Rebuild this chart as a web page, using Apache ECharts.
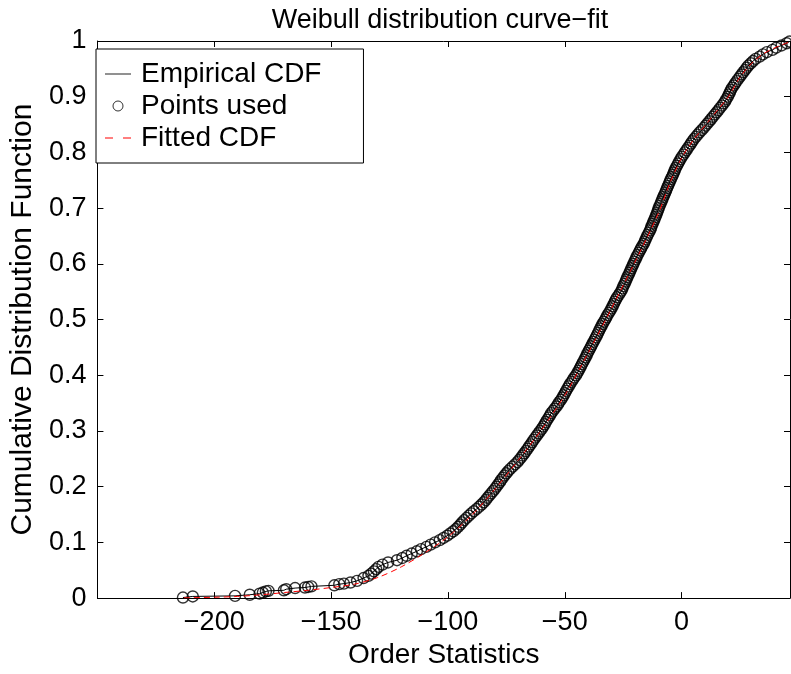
<!DOCTYPE html>
<html>
<head>
<meta charset="utf-8">
<title>Weibull distribution curve-fit</title>
<script src="https://cdn.jsdelivr.net/npm/echarts@6/dist/echarts.min.js"></script>
<style>
  html, body { margin: 0; padding: 0; background: #fff; }
  #chart { width: 791px; height: 674px; }
</style>
</head>
<body>
<div id="chart"></div>
<script>
// Lower tail of the sample: sparse order statistics and their CDF levels
const tailPoints = [
  [-213.4, 0.001], [-209.2, 0.003], [-191.1, 0.004], [-184.8, 0.006], [-180.6, 0.008],
  [-179.2, 0.010], [-177.9, 0.012], [-176.8, 0.013], [-170.2, 0.014], [-169.2, 0.016],
  [-165.4, 0.018], [-161.2, 0.019], [-159.8, 0.020], [-158.4, 0.021], [-148.6, 0.023],
  [-146.5, 0.025], [-144.5, 0.026], [-141.7, 0.028], [-138.9, 0.031], [-136.1, 0.036]
];

// Body of the sample: order statistics, one per CDF level below
const bodyOrderStats = [
  -134.0, -132.8, -131.7, -130.7, -129.7, -128.0, -125.6, -121.8, -119.5, -117.7,
  -115.5, -113.3, -111.5, -109.2, -107.4, -105.5, -103.5, -101.9, -100.3, -99.0,
  -97.7, -96.6, -95.6, -94.7, -93.9, -93.0, -92.0, -91.0, -90.0, -88.9,
  -87.7, -86.6, -85.6, -84.7, -83.8, -83.1, -82.3, -81.5, -80.7, -79.9,
  -79.2, -78.5, -77.8, -77.2, -76.5, -75.8, -75.0, -74.2, -73.3, -72.3,
  -71.3, -70.3, -69.5, -68.7, -68.0, -67.3, -66.6, -65.9, -65.3, -64.6,
  -63.9, -63.3, -62.6, -61.9, -61.2, -60.5, -59.8, -59.2, -58.6, -58.1,
  -57.5, -56.9, -56.3, -55.8, -55.0, -54.3, -53.5, -52.9, -52.3, -51.6,
  -51.0, -50.5, -49.9, -49.4, -48.9, -48.3, -47.8, -47.1, -46.5, -45.9,
  -45.2, -44.6, -44.1, -43.6, -43.1, -42.6, -42.1, -41.6, -41.1, -40.6,
  -40.2, -39.7, -39.2, -38.7, -38.2, -37.7, -37.2, -36.7, -36.2, -35.7,
  -35.3, -34.8, -34.3, -33.8, -33.3, -32.7, -32.2, -31.7, -31.1, -30.5,
  -30.0, -29.5, -29.0, -28.6, -28.1, -27.6, -26.9, -26.3, -25.7, -25.3,
  -24.9, -24.4, -24.0, -23.6, -23.2, -22.7, -22.3, -21.9, -21.5, -21.0,
  -20.6, -20.2, -19.7, -19.3, -18.8, -18.3, -17.8, -17.3, -16.8, -16.2,
  -15.8, -15.4, -14.9, -14.5, -14.0, -13.5, -13.1, -12.8, -12.4, -12.0,
  -11.6, -11.2, -10.8, -10.5, -10.1, -9.8, -9.4, -9.0, -8.6, -8.2,
  -7.8, -7.4, -7.0, -6.6, -6.2, -5.8, -5.4, -5.0, -4.6, -4.1,
  -3.7, -3.3, -2.9, -2.5, -2.0, -1.5, -1.0, -0.4, 0.1, 0.8,
  1.4, 2.1, 2.7, 3.4, 4.0, 4.6, 5.3, 6.1, 6.9, 7.7,
  8.6, 9.5, 10.3, 11.1, 11.9, 12.7, 13.4, 14.2, 15.0, 15.8,
  16.5, 17.3, 18.0, 18.7, 19.2, 19.8, 20.2, 20.7, 21.1, 21.6,
  22.3, 22.9, 23.6, 24.3, 25.0, 25.7, 26.4, 27.2, 27.9, 28.6,
  29.6, 30.6, 31.7, 33.4, 34.8, 36.5, 38.9, 40.5, 42.8, 45.0,
  46.2
];
const bodyCdfLevels = [
  0.040, 0.044, 0.048, 0.052, 0.056, 0.060, 0.064, 0.068, 0.072, 0.076,
  0.080, 0.084, 0.088, 0.092, 0.096, 0.100, 0.104, 0.108, 0.112, 0.116,
  0.120, 0.124, 0.128, 0.132, 0.136, 0.140, 0.144, 0.148, 0.152, 0.156,
  0.160, 0.164, 0.168, 0.172, 0.176, 0.180, 0.184, 0.188, 0.192, 0.196,
  0.200, 0.204, 0.208, 0.212, 0.216, 0.220, 0.224, 0.228, 0.232, 0.236,
  0.240, 0.244, 0.248, 0.252, 0.256, 0.260, 0.264, 0.268, 0.272, 0.276,
  0.280, 0.284, 0.288, 0.292, 0.296, 0.300, 0.304, 0.308, 0.312, 0.316,
  0.320, 0.324, 0.328, 0.332, 0.336, 0.340, 0.344, 0.348, 0.352, 0.356,
  0.360, 0.364, 0.368, 0.372, 0.376, 0.380, 0.384, 0.388, 0.392, 0.396,
  0.400, 0.404, 0.408, 0.412, 0.416, 0.420, 0.424, 0.428, 0.432, 0.436,
  0.440, 0.444, 0.448, 0.452, 0.456, 0.460, 0.464, 0.468, 0.472, 0.476,
  0.480, 0.484, 0.488, 0.492, 0.496, 0.500, 0.504, 0.508, 0.512, 0.516,
  0.520, 0.524, 0.528, 0.532, 0.536, 0.540, 0.544, 0.548, 0.552, 0.556,
  0.560, 0.564, 0.568, 0.572, 0.576, 0.580, 0.584, 0.588, 0.592, 0.596,
  0.600, 0.604, 0.608, 0.612, 0.616, 0.620, 0.624, 0.628, 0.632, 0.636,
  0.640, 0.644, 0.648, 0.652, 0.656, 0.660, 0.664, 0.668, 0.672, 0.676,
  0.680, 0.684, 0.688, 0.692, 0.696, 0.700, 0.704, 0.708, 0.712, 0.716,
  0.720, 0.724, 0.728, 0.732, 0.736, 0.740, 0.744, 0.748, 0.752, 0.756,
  0.760, 0.764, 0.768, 0.772, 0.776, 0.780, 0.784, 0.788, 0.792, 0.796,
  0.800, 0.804, 0.808, 0.812, 0.816, 0.820, 0.824, 0.828, 0.832, 0.836,
  0.840, 0.844, 0.848, 0.852, 0.856, 0.860, 0.864, 0.868, 0.872, 0.876,
  0.880, 0.884, 0.888, 0.892, 0.896, 0.900, 0.904, 0.908, 0.912, 0.916,
  0.920, 0.924, 0.928, 0.932, 0.936, 0.940, 0.944, 0.948, 0.952, 0.956,
  0.960, 0.964, 0.968, 0.972, 0.976, 0.980, 0.984, 0.988, 0.992, 0.996,
  0.999
];

// Fitted Weibull CDF sampled along the same range
const fittedX = [
  -213, -200, -190, -180, -170, -160, -150, -140, -130, -120,
  -110, -100, -90, -80, -70, -60, -50, -40, -30, -20,
  -10, -5, 0, 5, 10, 15, 20, 25, 30, 35, 40, 46
];
const fittedCdf = [
  0.0005, 0.0015, 0.003, 0.006, 0.010, 0.014, 0.019, 0.025, 0.037, 0.056,
  0.081, 0.110, 0.148, 0.195, 0.247, 0.302, 0.364, 0.440, 0.520, 0.603,
  0.690, 0.745, 0.790, 0.822, 0.848, 0.874, 0.900, 0.935, 0.960, 0.977, 0.988, 0.998
];

// Axis ranges and tick steps
const xRange = [-250, 46.4];
const xStep = 50;
const yRange = [0, 1];
const yStep = 0.1;

const FONT = '"Liberation Sans", Arial, Helvetica, sans-serif';
const ecdfPoints = tailPoints.concat(bodyOrderStats.map((x, i) => [x, bodyCdfLevels[i]]));
const fittedPoints = fittedX.map((x, i) => [x, fittedCdf[i]]);
const minusFmt = v => (v < 0 ? '\u2212' + Math.abs(v) : String(v));
const yFmt = v => (v === 0 ? '0' : v === 1 ? '1' : (+v).toFixed(1));

const frameLine = { show: true, onZero: false, lineStyle: { color: '#000', width: 1 } };
const innerTicks = { show: true, inside: true, length: 6, lineStyle: { color: '#000', width: 1 } };

// Legend glyphs: thin solid stroke and a two-dash stroke, padded to a 26x10 box
const solidIcon = 'path://M0,0L0,0M0,4.5H26V5.5H0ZM0,10L0,10';
const dashIcon = 'path://M0,0L0,0M0,4.5H8V5.5H0ZM18,4.5H26V5.5H18ZM0,10L0,10';

const chart = echarts.init(document.getElementById('chart'), null, { renderer: 'canvas' });
chart.setOption({
  animation: false,
  backgroundColor: '#fff',
  textStyle: { fontFamily: FONT, color: '#000' },
  title: {
    text: 'Weibull distribution curve\u2212fit',
    left: 435,
    top: 2,
    textAlign: 'center',
    textStyle: { fontFamily: FONT, fontSize: 27, fontWeight: 'normal', color: '#000' }
  },
  grid: { left: 80, right: 1, top: 41, bottom: 67, containLabel: false },
  legend: {
    orient: 'vertical',
    left: 96,
    top: 49,
    padding: [11, 42, 11, 9],
    itemGap: 4,
    itemWidth: 26,
    itemHeight: 10,
    borderColor: '#000',
    borderWidth: 1,
    backgroundColor: '#fff',
    textStyle: { fontFamily: FONT, fontSize: 28, color: '#000', padding: [0, 0, 0, 5] },
    data: [
      { name: 'Empirical CDF', icon: solidIcon, itemStyle: { color: '#222', borderWidth: 0 } },
      { name: 'Points used', icon: 'circle',
        itemStyle: { color: 'rgba(0,0,0,0)', borderColor: '#000', borderWidth: 1 } },
      { name: 'Fitted CDF', icon: dashIcon, itemStyle: { color: '#ff0000', borderWidth: 0 } }
    ]
  },
  xAxis: [
    {
      type: 'value', min: xRange[0], max: xRange[1], interval: xStep,
      name: 'Order Statistics', nameLocation: 'middle', nameGap: 41,
      nameTextStyle: { fontFamily: FONT, fontSize: 28, color: '#000' },
      axisLine: frameLine, axisTick: innerTicks, splitLine: { show: false },
      axisLabel: { fontFamily: FONT, fontSize: 27, color: '#000', margin: 11,
        showMinLabel: false, showMaxLabel: false, formatter: minusFmt }
    },
    {
      type: 'value', position: 'top', min: xRange[0], max: xRange[1], interval: xStep,
      axisLine: frameLine, axisTick: innerTicks, splitLine: { show: false },
      axisLabel: { show: false }
    }
  ],
  yAxis: [
    {
      type: 'value', min: yRange[0], max: yRange[1], interval: yStep,
      name: 'Cumulative Distribution Function', nameLocation: 'middle', nameGap: 44,
      nameTextStyle: { fontFamily: FONT, fontSize: 30, color: '#000' },
      axisLine: frameLine, axisTick: innerTicks, splitLine: { show: false },
      axisLabel: { fontFamily: FONT, fontSize: 27, color: '#000', margin: 11, formatter: yFmt }
    },
    {
      type: 'value', position: 'right', min: yRange[0], max: yRange[1], interval: yStep,
      axisLine: frameLine, axisTick: innerTicks, splitLine: { show: false },
      axisLabel: { show: false }
    }
  ],
  series: [
    {
      name: 'Empirical CDF', type: 'line', data: ecdfPoints,
      symbol: 'none', lineStyle: { color: '#000', width: 1 }, itemStyle: { color: '#000' }, z: 2
    },
    {
      name: 'Points used', type: 'scatter', data: ecdfPoints,
      symbol: 'circle', symbolSize: 11,
      itemStyle: { color: 'rgba(0,0,0,0)', borderColor: '#000', borderWidth: 1.4 }, z: 3
    },
    {
      name: 'Fitted CDF', type: 'line', data: fittedPoints, smooth: 0.3,
      symbol: 'none', lineStyle: { color: '#ff0000', width: 1, type: [6, 4] },
      itemStyle: { color: '#ff0000' }, z: 4
    }
  ]
});
</script>
</body>
</html>
